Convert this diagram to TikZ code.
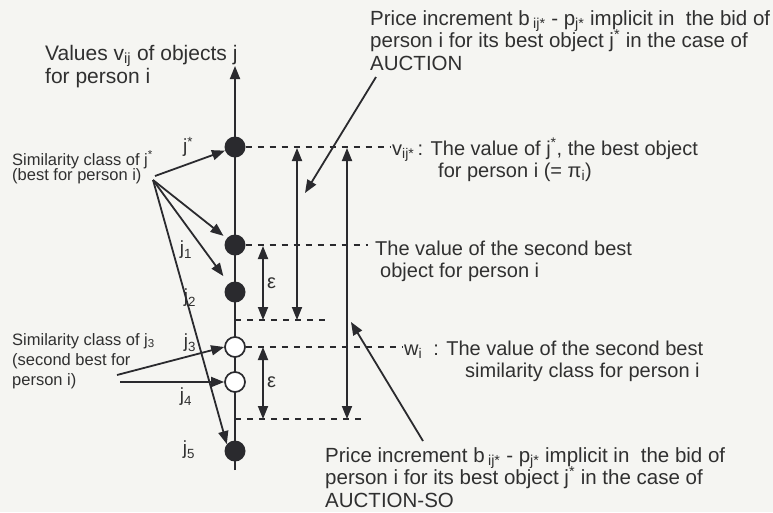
\documentclass[tikz,border=0pt]{standalone}
\usepackage{fontspec}
\setmainfont{Liberation Sans}
\usetikzlibrary{arrows.meta,calc}
\definecolor{ink}{HTML}{2A2A2E}
\definecolor{txt}{HTML}{303030}
\definecolor{paper}{HTML}{F5F5F2}
\newcommand{\blocklines}[2]{\vtop{\baselineskip=#1\lineskiplimit=-20pt #2}}
\begin{document}
\begin{tikzpicture}[x=1pt,y=-1pt,
  ln/.style={draw=ink, line width=1.8pt},
  arr/.style={ln, -{Triangle[length=13pt,width=10pt]}},
  darr/.style={ln, {Triangle[length=13pt,width=10pt]}-{Triangle[length=13pt,width=10pt]}},
  dsh/.style={draw=ink, line width=1.6pt, dash pattern=on 6pt off 6pt},
  fulldot/.style={circle, fill=ink, minimum size=21pt, inner sep=0pt},
  opendot/.style={circle, draw=ink, fill=white, line width=1.7pt, minimum size=20pt, inner sep=0pt},
  big/.style={font=\fontsize{20}{24}\selectfont, text=txt, inner sep=0pt, anchor=base west},
  price/.style={font=\fontsize{20.5}{22.5}\selectfont, text=txt, inner sep=0pt, anchor=base west},
  small/.style={font=\fontsize{16.5}{20}\selectfont, text=txt, inner sep=0pt, anchor=base west},
  jl/.style={font=\fontsize{19}{22}\selectfont, text=txt, inner sep=0pt},
]
\fill[paper] (0,0) rectangle (773,512);
\path[use as bounding box] (0,0) rectangle (773,512);

% axis
\coordinate (bot) at (235,470);
\coordinate (top) at (235,66);
\draw[arr] (bot) -- (top);

% dots
\node[fulldot] (jstar) at (235,147) {};
\node[fulldot] (j1) at (235,245) {};
\node[fulldot] (j2) at (235,292) {};
\node[opendot] (j3) at (235,347) {};
\node[opendot] (j4) at (235,382) {};
\node[fulldot] (j5) at (235,451) {};

% j labels
\node[jl] (lstar) at (188,147) {j\textsuperscript{*}};
\node[jl] (l1) at (186,250) {j\textsubscript{1}};
\node[jl] (l2) at (190,298) {j\textsubscript{2}};
\node[jl] (l3) at (190,343) {j\textsubscript{3}};
\node[jl] (l4) at (186,397) {j\textsubscript{4}};
\node[jl] (l5) at (189,450) {j\textsubscript{5}};

% dashed levels
\coordinate (d1) at (390,147);
\coordinate (d2) at (368,245);
\coordinate (d3a) at (235,320);
\coordinate (d3b) at (325,320);
\coordinate (d4) at (402,347);
\coordinate (d5a) at (235,419);
\coordinate (d5b) at (362,419);
\draw[dsh] (jstar.east) -- (d1);
\draw[dsh] (j1.east) -- (d2);
\draw[dsh] (d3a) -- (d3b);
\draw[dsh] (j3.east) -- (d4);
\draw[dsh] (d5a) -- (d5b);

% vertical double arrows
\coordinate (e1t) at (263,246);
\coordinate (e1b) at (263,320);
\coordinate (e2t) at (263,347);
\coordinate (e2b) at (263,419);
\coordinate (p1t) at (297,148);
\coordinate (p1b) at (297,320);
\coordinate (p2t) at (347,148);
\coordinate (p2b) at (347,419);
\draw[darr] (e1t) -- (e1b);
\draw[darr] (e2t) -- (e2b);
\draw[darr] (p1t) -- (p1b);
\draw[darr] (p2t) -- (p2b);
\node[big, anchor=west] (eps1) at (267,283) {ε};
\node[big, anchor=west] (eps2) at (267,382) {ε};

% top-left label
\node[big, font=\fontsize{21}{23}\selectfont] (val) at (45,60)
  {\blocklines{23pt}{\hbox{Values v\textsubscript{ij} of objects j}\hbox{for person i}}};

% similarity class of j*
\node[small] (sc1) at (12,165)
  {\blocklines{15pt}{\hbox{Similarity class of j\textsuperscript{*}}\hbox{(best for person i)}}};
\coordinate (s1) at (153,180);
\coordinate (s1b) at (155,176);
\draw[arr] (s1b) -- (jstar);
\draw[arr, shorten >=4pt] (s1) -- (j1);
\draw[arr, shorten >=9pt] (s1) -- (j2);
\draw[arr] (s1) -- (j5.140);

% similarity class of j3
\node[small] (sc2) at (12,345)
  {\blocklines{20pt}{\hbox{Similarity class of j\textsubscript{3}}\hbox{(second best for}\hbox{person i)}}};
\coordinate (s2a) at (117,375);
\coordinate (s2b) at (120,382);
\draw[arr] (s2a) -- (j3.west);
\draw[arr] (s2b) -- (j4.west);

% top right block
\node[price] (t) at (370,25)
  {\blocklines{22.5pt}{\hbox{Price increment b\,\textsubscript{ij*} - p\textsubscript{j*} implicit in\ \ the bid of}\hbox{person i for its best object j\textsuperscript{*} in the case of}\hbox{AUCTION}}};
\coordinate (aT) at (376,77);
\coordinate (aH) at (305,193);
\draw[arr] (aT) -- (aH);

% v_ij* block
\node[big] (v1) at (392,155) {v\textsubscript{ij*}\,: The value of j\textsuperscript{*}, the best object};
\node[big] (v2) at (438,177) {for person i (= π\textsubscript{i})};

% second best object
\node[big] (s21) at (375,255) {The value of the second best};
\node[big] (s22) at (380,277) {object for person i};

% w_i block
\node[big] (w1) at (404,355) {w\textsubscript{i}\ \ : The value of the second best};
\node[big] (w2) at (465,377) {similarity class for person i};

% bottom block
\node[price] (b) at (325,462)
  {\blocklines{22.5pt}{\hbox{Price increment b\,\textsubscript{ij*} - p\textsubscript{j*} implicit in\ \ the bid of}\hbox{person i for its best object j\textsuperscript{*} in the case of}\hbox{AUCTION-SO}}};
\coordinate (bT) at (423,441);
\coordinate (bH) at (351,322);
\draw[arr] (bT) -- (bH);
\end{tikzpicture}
\end{document}
